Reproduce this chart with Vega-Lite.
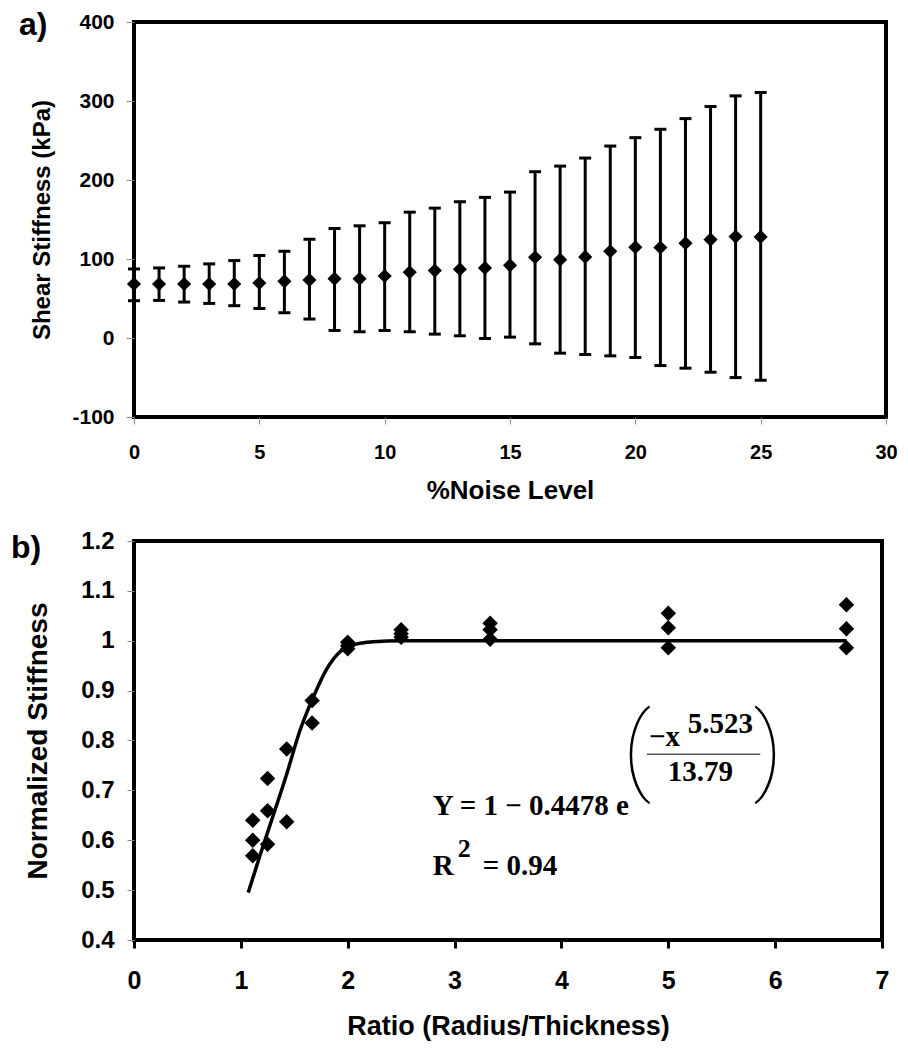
{
  "$schema": "https://vega.github.io/schema/vega-lite/v6.json",
  "padding": {"left": 9, "top": 6, "right": 10, "bottom": 5},
  "spacing": 22,
  "background": "white",
  "config": {
    "view": {"stroke": "black", "strokeWidth": 4},
    "axis": {
      "domain": false, "grid": false, "labelFlush": false, "labelOverlap": false,
      "labelFont": "Liberation Sans", "labelFontWeight": "bold", "labelColor": "black",
      "titleFont": "Liberation Sans", "titleFontWeight": "bold", "titleColor": "black"
    }
  },
  "datasets": {
    "noise": [
      {"noise": 0, "mean": 68.4, "lo": 47.2, "hi": 87.4},
      {"noise": 1, "mean": 68.4, "lo": 47.6, "hi": 88.7},
      {"noise": 2, "mean": 68.4, "lo": 45.5, "hi": 90.8},
      {"noise": 3, "mean": 68.4, "lo": 43.8, "hi": 93.8},
      {"noise": 4, "mean": 68.4, "lo": 40.9, "hi": 98.0},
      {"noise": 5, "mean": 69.6, "lo": 37.5, "hi": 104.3},
      {"noise": 6, "mean": 71.7, "lo": 32.0, "hi": 109.8},
      {"noise": 7, "mean": 73.4, "lo": 24.0, "hi": 125.0},
      {"noise": 8, "mean": 75.1, "lo": 9.5, "hi": 138.6},
      {"noise": 9, "mean": 75.0, "lo": 7.9, "hi": 142.0},
      {"noise": 10, "mean": 78.5, "lo": 9.5, "hi": 145.8},
      {"noise": 11, "mean": 83.2, "lo": 7.9, "hi": 159.3},
      {"noise": 12, "mean": 85.3, "lo": 4.9, "hi": 164.4},
      {"noise": 13, "mean": 87.0, "lo": 2.8, "hi": 172.5},
      {"noise": 14, "mean": 88.7, "lo": -0.6, "hi": 178.0},
      {"noise": 15, "mean": 92.0, "lo": 1.1, "hi": 184.7},
      {"noise": 16, "mean": 102.2, "lo": -7.4, "hi": 210.5},
      {"noise": 17, "mean": 99.2, "lo": -19.2, "hi": 217.6},
      {"noise": 18, "mean": 102.6, "lo": -20.9, "hi": 227.8},
      {"noise": 19, "mean": 109.8, "lo": -22.6, "hi": 243.0},
      {"noise": 20, "mean": 114.9, "lo": -24.7, "hi": 253.6},
      {"noise": 21, "mean": 114.5, "lo": -34.9, "hi": 264.2},
      {"noise": 22, "mean": 120.0, "lo": -38.2, "hi": 277.7},
      {"noise": 23, "mean": 124.6, "lo": -43.3, "hi": 293.0},
      {"noise": 24, "mean": 128.4, "lo": -50.1, "hi": 306.5},
      {"noise": 25, "mean": 128.0, "lo": -53.5, "hi": 310.8}
    ],
    "pts": [
      {"ratio": 1.111, "stiffness": 0.640},
      {"ratio": 1.111, "stiffness": 0.600},
      {"ratio": 1.111, "stiffness": 0.569},
      {"ratio": 1.25, "stiffness": 0.724},
      {"ratio": 1.25, "stiffness": 0.659},
      {"ratio": 1.25, "stiffness": 0.592},
      {"ratio": 1.429, "stiffness": 0.783},
      {"ratio": 1.429, "stiffness": 0.637},
      {"ratio": 1.667, "stiffness": 0.880},
      {"ratio": 1.667, "stiffness": 0.835},
      {"ratio": 2.0, "stiffness": 0.997},
      {"ratio": 2.0, "stiffness": 0.990},
      {"ratio": 2.0, "stiffness": 0.984},
      {"ratio": 2.5, "stiffness": 1.022},
      {"ratio": 2.5, "stiffness": 1.014},
      {"ratio": 2.5, "stiffness": 1.007},
      {"ratio": 3.333, "stiffness": 1.035},
      {"ratio": 3.333, "stiffness": 1.022},
      {"ratio": 3.333, "stiffness": 1.003},
      {"ratio": 5.0, "stiffness": 1.055},
      {"ratio": 5.0, "stiffness": 1.026},
      {"ratio": 5.0, "stiffness": 0.986},
      {"ratio": 6.667, "stiffness": 1.072},
      {"ratio": 6.667, "stiffness": 1.024},
      {"ratio": 6.667, "stiffness": 0.986}
    ],
    "fit": [
      {"ratio": 1.069, "fit": 0.495},
      {"ratio": 1.178, "fit": 0.569},
      {"ratio": 1.303, "fit": 0.650},
      {"ratio": 1.428, "fit": 0.732},
      {"ratio": 1.553, "fit": 0.820},
      {"ratio": 1.678, "fit": 0.887},
      {"ratio": 1.803, "fit": 0.943},
      {"ratio": 1.928, "fit": 0.978},
      {"ratio": 2.053, "fit": 0.992},
      {"ratio": 2.24, "fit": 0.998},
      {"ratio": 2.5, "fit": 1.0},
      {"ratio": 6.667, "fit": 1.0}
    ],
    "one": [{}]
  },
  "vconcat": [
    {
      "width": 752,
      "height": 395,
      "data": {"name": "noise"},
      "layer": [
        {
          "mark": {"type": "rule", "strokeWidth": 3, "color": "black"},
          "encoding": {
            "x": {"field": "noise", "type": "quantitative", "title": "%Noise Level",
              "scale": {"domain": [0, 30], "nice": false, "zero": false},
              "axis": {"values": [0, 5, 10, 15, 20, 25, 30], "tickColor": "#888", "tickWidth": 1, "tickSize": 7,
                "labelFontSize": 20, "labelPadding": 18, "titleFontSize": 26, "titlePadding": 15}},
            "y": {"field": "lo", "type": "quantitative", "title": "Shear Stiffness (kPa)",
              "scale": {"domain": [-100, 400], "nice": false, "zero": false},
              "axis": {"values": [-100, 0, 100, 200, 300, 400], "labelExpr": "'' + datum.value", "tickColor": "#888", "tickWidth": 1, "tickSize": 8,
                "labelFontSize": 21, "labelPadding": 12, "titleFontSize": 24, "titlePadding": 17}},
            "y2": {"field": "hi"}
          }
        },
        {
          "mark": {"type": "tick", "orient": "horizontal", "size": 12, "thickness": 3, "color": "black", "opacity": 1},
          "encoding": {
            "x": {"field": "noise", "type": "quantitative"},
            "y": {"field": "lo", "type": "quantitative"}
          }
        },
        {
          "mark": {"type": "tick", "orient": "horizontal", "size": 12, "thickness": 3, "color": "black", "opacity": 1},
          "encoding": {
            "x": {"field": "noise", "type": "quantitative"},
            "y": {"field": "hi", "type": "quantitative"}
          }
        },
        {
          "mark": {"type": "point", "shape": "diamond", "filled": true, "size": 200, "color": "black", "opacity": 1},
          "encoding": {
            "x": {"field": "noise", "type": "quantitative"},
            "y": {"field": "mean", "type": "quantitative"}
          }
        },
        {
          "data": {"name": "one"},
          "mark": {"type": "text", "text": "a)", "font": "Liberation Sans", "fontWeight": "bold", "fontSize": 32, "align": "left", "baseline": "alphabetic", "color": "black"},
          "encoding": {"x": {"datum": -4.588}, "y": {"datum": 383.9}}
        }
      ]
    },
    {
      "width": 748,
      "height": 399,
      "layer": [
        {
          "data": {"name": "fit"},
          "mark": {"type": "line", "interpolate": "monotone", "strokeWidth": 3.5, "color": "black"},
          "encoding": {
            "x": {"field": "ratio", "type": "quantitative", "title": "Ratio (Radius/Thickness)",
              "scale": {"domain": [0, 7], "nice": false, "zero": false},
              "axis": {"values": [0, 1, 2, 3, 4, 5, 6, 7], "format": "d", "tickColor": "black", "tickWidth": 3, "tickSize": 8,
                "labelFontSize": 25, "labelPadding": 20, "titleFontSize": 27, "titlePadding": 20}},
            "y": {"field": "fit", "type": "quantitative", "title": "Normalized Stiffness",
              "scale": {"domain": [0.4, 1.2], "nice": false, "zero": false},
              "axis": {"values": [0.4, 0.5, 0.6, 0.7, 0.8, 0.9, 1.0, 1.1, 1.2], "format": ".1~f", "tickColor": "#888", "tickWidth": 1, "tickSize": 7,
                "labelFontSize": 24, "labelPadding": 13, "titleFontSize": 28, "titlePadding": 28}}
          }
        },
        {
          "data": {"name": "pts"},
          "mark": {"type": "point", "shape": "diamond", "filled": true, "size": 240, "color": "black", "opacity": 1},
          "encoding": {
            "x": {"field": "ratio", "type": "quantitative"},
            "y": {"field": "stiffness", "type": "quantitative"}
          }
        },
        {
          "data": {"name": "one"},
          "mark": {"type": "text", "text": "b)", "font": "Liberation Sans", "fontWeight": "bold", "fontSize": 32, "align": "left", "baseline": "alphabetic", "color": "black"},
          "encoding": {"x": {"datum": -1.151}, "y": {"datum": 1.1655}}
        },
        {
          "data": {"name": "one"},
          "mark": {"type": "text", "text": "Y = 1 − 0.4478 e", "font": "Liberation Serif", "fontWeight": "bold", "fontSize": 29, "align": "left", "baseline": "alphabetic", "color": "black"},
          "encoding": {"x": {"datum": 2.795}, "y": {"datum": 0.651}}
        },
        {
          "data": {"name": "one"},
          "mark": {"type": "text", "text": "R", "font": "Liberation Serif", "fontWeight": "bold", "fontSize": 29, "align": "left", "baseline": "alphabetic", "color": "black"},
          "encoding": {"x": {"datum": 2.795}, "y": {"datum": 0.5307}}
        },
        {
          "data": {"name": "one"},
          "mark": {"type": "text", "text": "2", "font": "Liberation Serif", "fontWeight": "bold", "fontSize": 26, "align": "left", "baseline": "alphabetic", "color": "black"},
          "encoding": {"x": {"datum": 3.029}, "y": {"datum": 0.5674}}
        },
        {
          "data": {"name": "one"},
          "mark": {"type": "text", "text": "= 0.94", "font": "Liberation Serif", "fontWeight": "bold", "fontSize": 29, "align": "left", "baseline": "alphabetic", "color": "black"},
          "encoding": {"x": {"datum": 3.263}, "y": {"datum": 0.5307}}
        },
        {
          "data": {"name": "one"},
          "mark": {"type": "text", "text": "−x", "font": "Liberation Serif", "fontWeight": "bold", "fontSize": 29, "align": "left", "baseline": "alphabetic", "color": "black"},
          "encoding": {"x": {"datum": 4.82}, "y": {"datum": 0.788}}
        },
        {
          "data": {"name": "one"},
          "mark": {"type": "text", "text": "5.523", "font": "Liberation Serif", "fontWeight": "bold", "fontSize": 29, "align": "left", "baseline": "alphabetic", "color": "black"},
          "encoding": {"x": {"datum": 5.181}, "y": {"datum": 0.8146}}
        },
        {
          "data": {"name": "one"},
          "mark": {"type": "rule", "strokeWidth": 1.5, "color": "#555"},
          "encoding": {"x": {"datum": 4.801}, "x2": {"datum": 5.861}, "y": {"datum": 0.7725}}
        },
        {
          "data": {"name": "one"},
          "mark": {"type": "text", "text": "13.79", "font": "Liberation Serif", "fontWeight": "bold", "fontSize": 29, "align": "left", "baseline": "alphabetic", "color": "black"},
          "encoding": {"x": {"datum": 4.994}, "y": {"datum": 0.7178}}
        },
        {
          "data": {"name": "one"},
          "mark": {"type": "text", "text": "(", "font": "Roboto", "fontWeight": 100, "fontSize": 96, "align": "center", "baseline": "alphabetic", "color": "black"},
          "encoding": {"x": {"datum": 4.707}, "y": {"datum": 0.7168}}
        },
        {
          "data": {"name": "one"},
          "mark": {"type": "text", "text": ")", "font": "Roboto", "fontWeight": 100, "fontSize": 96, "align": "center", "baseline": "alphabetic", "color": "black"},
          "encoding": {"x": {"datum": 5.933}, "y": {"datum": 0.7168}}
        }
      ]
    }
  ]
}
